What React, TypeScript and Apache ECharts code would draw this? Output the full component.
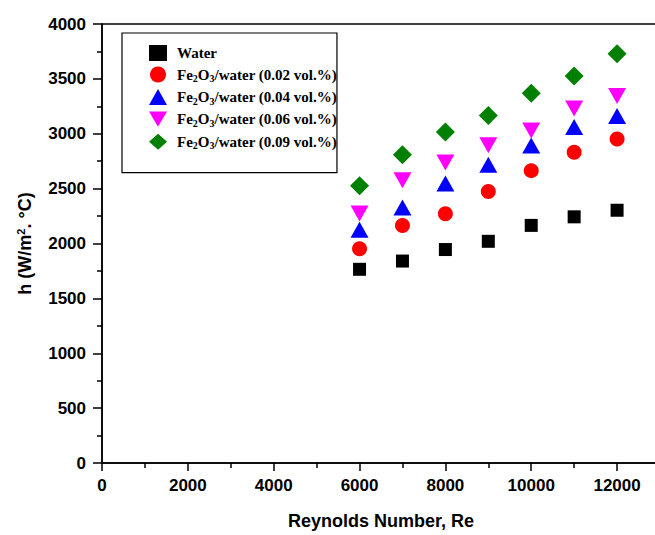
import React, { useEffect, useRef } from "react";
import * as echarts from "echarts";

const reynolds = [6000, 7000, 8000, 9000, 10000, 11000, 12000];
const water = [1765, 1840, 1945, 2020, 2165, 2243, 2303];
const fe002 = [1952, 2164, 2270, 2473, 2664, 2832, 2952];
const fe004 = [2125, 2328, 2547, 2718, 2893, 3062, 3162];
const fe006 = [2274, 2577, 2738, 2895, 3029, 3229, 3343];
const fe009 = [2527, 2809, 3015, 3167, 3370, 3527, 3730];

const seriesNames = [
  "Water",
  "Fe2O3/water (0.02 vol.%)",
  "Fe2O3/water (0.04 vol.%)",
  "Fe2O3/water (0.06 vol.%)",
  "Fe2O3/water (0.09 vol.%)",
];
const xTicks = { min: 0, max: 13000, interval: 2000 };
const yTicks = { min: 0, max: 4000, interval: 500 };

const AX = "Liberation Sans, Arial, sans-serif";
const SERIF = "Liberation Serif, Times New Roman, serif";

export default function App() {
  const ref = useRef<HTMLDivElement>(null);
  useEffect(() => {
    if (!ref.current) return;
    const chart = echarts.init(ref.current, null, { renderer: "svg" });
    const mk = (vals: number[]) => reynolds.map((r, i) => [r, vals[i]]);
    const axisLine = { show: true, lineStyle: { color: "#000", width: 1.5 } };
    const plain = (v: number) => String(v);
    chart.setOption({
      animation: false,
      backgroundColor: "#fff",
      grid: {
        left: 102,
        top: 24,
        width: 558,
        height: 440,
        show: true,
        borderColor: "#000",
        borderWidth: 1.5,
        backgroundColor: "transparent",
      },
      legend: {
        orient: "vertical",
        left: 122,
        top: 33,
        width: 220,
        padding: [12, 0, 22, 27],
        borderColor: "#000",
        borderWidth: 1.2,
        backgroundColor: "#fff",
        itemWidth: 18,
        itemHeight: 16,
        itemGap: 5.5,
        data: seriesNames,
        formatter: (name: string) => {
          if (name.startsWith("Fe2O3")) {
            return "{g| }{a|Fe}{s|2}{a|O}{s|3}{a|" + name.slice(5) + "}";
          }
          return "{g| }{a|" + name + "}";
        },
        textStyle: {
          fontFamily: SERIF,
          fontWeight: "bold",
          fontSize: 15,
          color: "#000",
          rich: {
            g: { width: 5, fontSize: 10, lineHeight: 10 },
            a: { fontFamily: SERIF, fontWeight: "bold", fontSize: 15, color: "#000", lineHeight: 18 },
            s: {
              fontFamily: SERIF,
              fontWeight: "bold",
              fontSize: 10,
              color: "#000",
              lineHeight: 9,
              verticalAlign: "bottom",
            },
          },
        },
      },
      xAxis: {
        type: "value",
        min: xTicks.min,
        max: xTicks.max,
        interval: xTicks.interval,
        name: "Reynolds Number, Re",
        nameLocation: "middle",
        nameGap: 49,
        nameTextStyle: { fontFamily: AX, fontWeight: "bold", fontSize: 18, color: "#000" },
        axisLine,
        axisTick: { show: true, length: 8, inside: false, lineStyle: { color: "#000", width: 1.5 } },
        minorTick: { show: true, splitNumber: 2, length: 5, lineStyle: { color: "#000", width: 1.5 } },
        axisLabel: {
          show: true,
          margin: 14,
          showMaxLabel: false,
          formatter: plain,
          fontFamily: AX,
          fontWeight: "bold",
          fontSize: 17,
          color: "#000",
        },
        splitLine: { show: false },
      },
      yAxis: {
        type: "value",
        min: yTicks.min,
        max: yTicks.max,
        interval: yTicks.interval,
        name: "{a|h (W/m}{p|2}{a|. °C)}",
        nameLocation: "middle",
        nameRotate: 90,
        nameGap: 67,
        nameTextStyle: {
          fontFamily: AX,
          fontWeight: "bold",
          fontSize: 18,
          color: "#000",
          rich: {
            a: { fontFamily: AX, fontWeight: "bold", fontSize: 18, color: "#000", lineHeight: 20 },
            p: {
              fontFamily: AX,
              fontWeight: "bold",
              fontSize: 11,
              color: "#000",
              lineHeight: 11,
              verticalAlign: "top",
            },
          },
        },
        axisLine,
        axisTick: { show: true, length: 9, inside: false, lineStyle: { color: "#000", width: 1.5 } },
        minorTick: { show: true, splitNumber: 2, length: 5, lineStyle: { color: "#000", width: 1.5 } },
        axisLabel: {
          show: true,
          margin: 16,
          formatter: plain,
          fontFamily: AX,
          fontWeight: "bold",
          fontSize: 17,
          color: "#000",
        },
        splitLine: { show: false },
      },
      series: [
        {
          name: seriesNames[0],
          type: "scatter",
          symbol: "rect",
          symbolSize: 13,
          itemStyle: { color: "#000000", opacity: 1 },
          data: mk(water),
        },
        {
          name: seriesNames[1],
          type: "scatter",
          symbol: "circle",
          symbolSize: 15,
          itemStyle: { color: "#ff0000", opacity: 1 },
          data: mk(fe002),
        },
        {
          name: seriesNames[2],
          type: "scatter",
          symbol: "triangle",
          symbolSize: [18, 16],
          itemStyle: { color: "#0000ff", opacity: 1 },
          data: mk(fe004),
        },
        {
          name: seriesNames[3],
          type: "scatter",
          symbol: "path://M0,0 L20,0 L10,17 Z",
          symbolSize: [18, 16],
          itemStyle: { color: "#ff00ff", opacity: 1 },
          data: mk(fe006),
        },
        {
          name: seriesNames[4],
          type: "scatter",
          symbol: "diamond",
          symbolSize: [19, 19],
          itemStyle: { color: "#008000", opacity: 1 },
          data: mk(fe009),
        },
      ],
    });
    return () => chart.dispose();
  }, []);
  return (
    <div
      style={{
        position: "fixed",
        left: 0,
        top: 0,
        width: 655,
        height: 535,
        overflow: "hidden",
        background: "#fff",
      }}
    >
      <div ref={ref} style={{ width: 670, height: 535 }} />
    </div>
  );
}
